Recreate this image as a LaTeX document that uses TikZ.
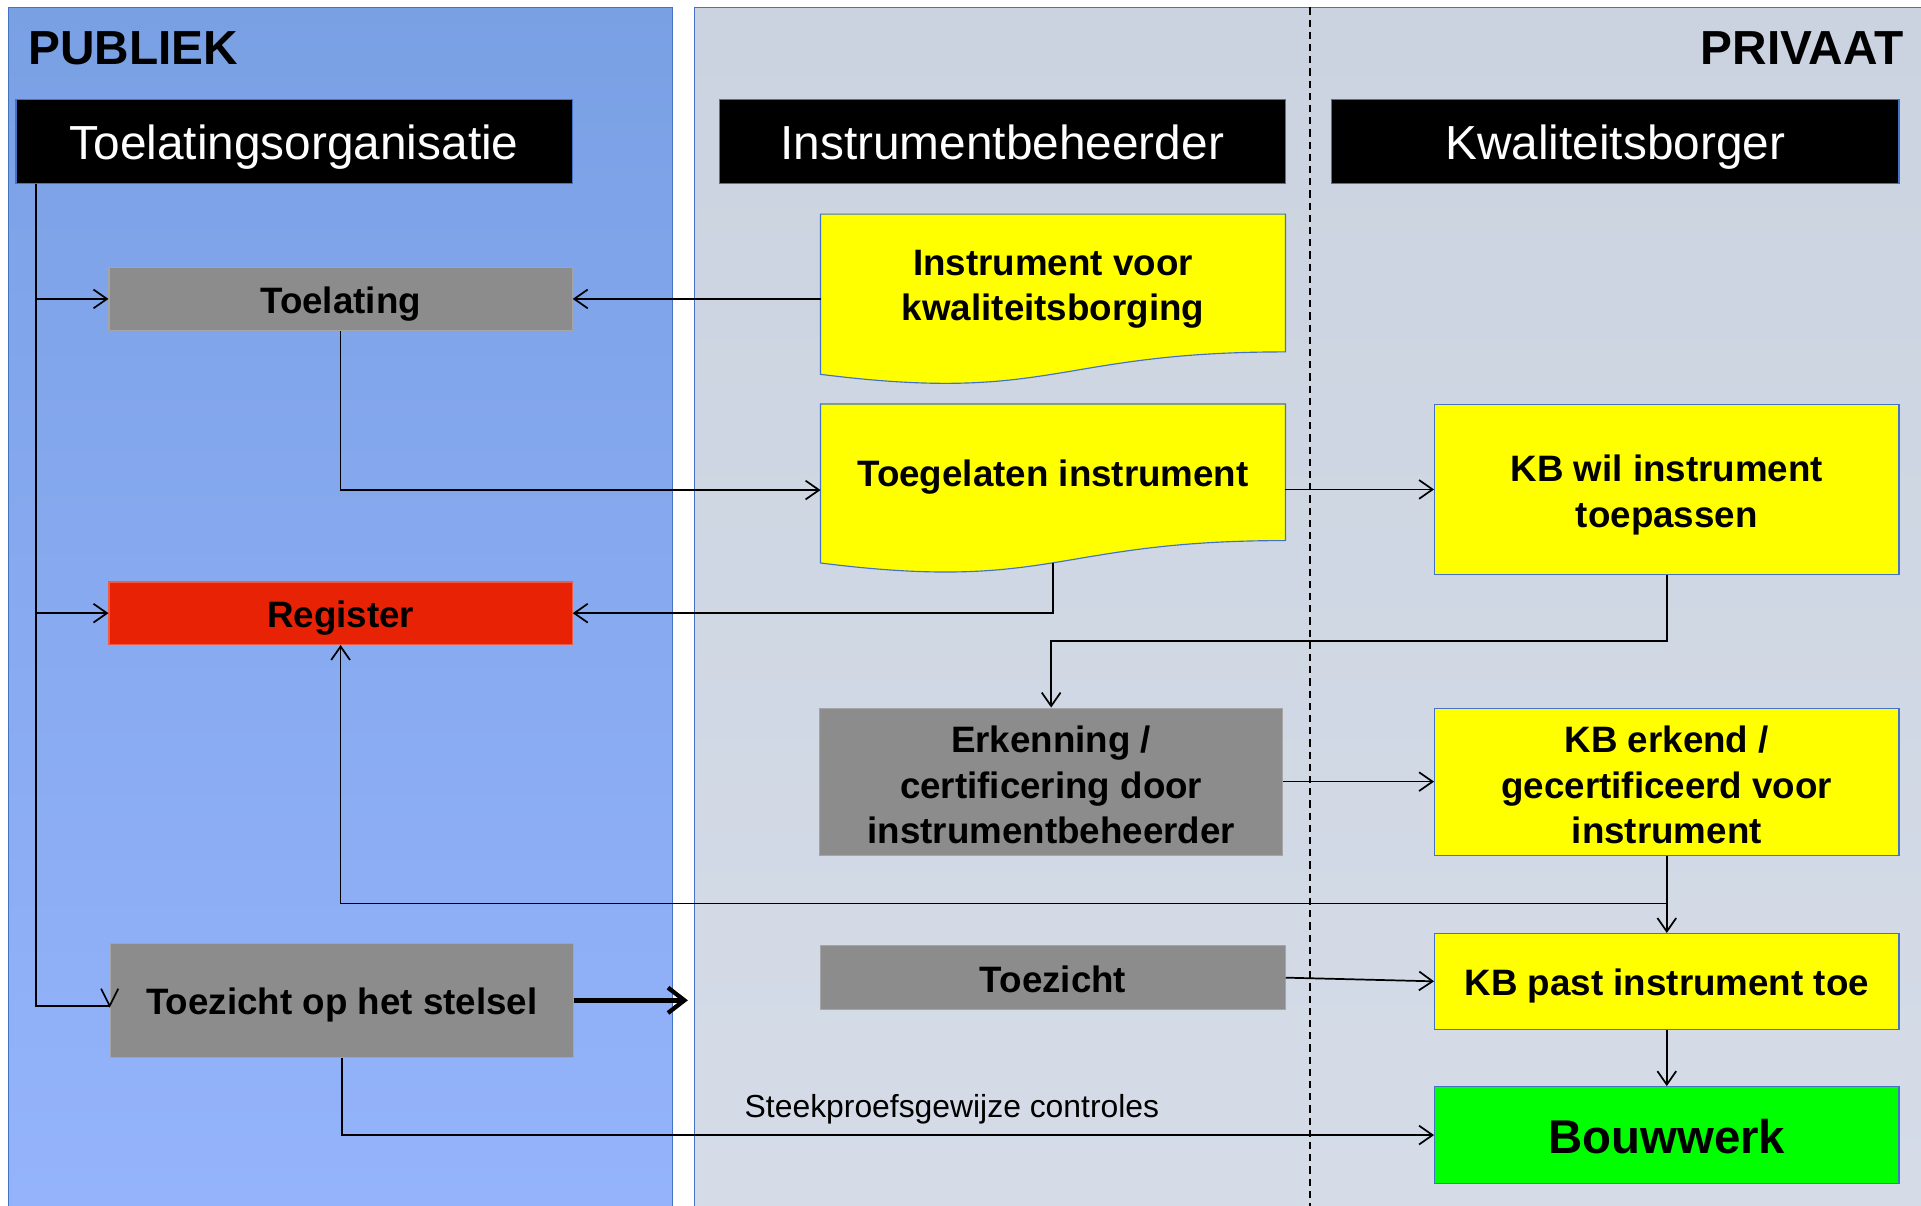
\documentclass[tikz,border=0pt]{standalone}
\usepackage{fontspec}
\setmainfont{Liberation Sans}
\usetikzlibrary{arrows.meta,calc}
\pgfdeclarelayer{panels}
\pgfdeclarelayer{docs}
\pgfsetlayers{panels,docs,main}
\definecolor{pubtop}{RGB}{122,160,228}
\definecolor{pubbot}{RGB}{148,179,251}
\definecolor{privtop}{RGB}{203,211,224}
\definecolor{privbot}{RGB}{213,220,232}
\definecolor{edgeblue}{RGB}{68,114,196}
\definecolor{boxgray}{RGB}{140,140,140}
\definecolor{grayedge}{RGB}{165,165,165}
\definecolor{regred}{RGB}{232,35,5}
\definecolor{kbyellow}{RGB}{255,255,0}
\definecolor{bgreen}{RGB}{0,255,0}
\newcommand\hdrf{\fontsize{33.3}{38}\selectfont}
\newcommand\bodyf{\fontsize{25.6}{31.6}\selectfont\bfseries}
\newcommand\bigf{\fontsize{33}{38}\selectfont\bfseries}
\newcommand\smallf{\fontsize{22.2}{26}\selectfont}
\newcommand\pstrut[1]{\rule[-0.212em]{0pt}{\dimexpr 1.117em+#1\relax}}
\newcommand\tallb{\pstrut{3.4pt}}
\newcommand\tallc{\pstrut{5.1pt}}
\newcommand\docshape[1]{%
  \begin{pgfonlayer}{docs}
  \filldraw[fill=kbyellow, draw=edgeblue, line width=0.8pt]
    (#1.north west) -- (#1.north east) -- (#1.south east)
    .. controls (#1.south) and ($(#1.south)+(0,42.3)$) ..
    ($(#1.south west)+(0,18.3)$) -- cycle;
  \end{pgfonlayer}}
\tikzset{
  sz/.style 2 args={minimum width=#1*0.03cm, minimum height=#2*0.03cm},
  base/.style={inner sep=0pt, align=center, font=\bodyf,
    execute at begin node={\pstrut{2.6pt}}, execute at end node={\pstrut{0pt}}},
  hdr/.style={base, fill=black, draw=edgeblue, line width=0.8pt, text=white, font=\hdrf,
    execute at begin node={\pstrut{0pt}}},
  gbox/.style={base, fill=boxgray, draw=grayedge, line width=0.8pt},
  ybox/.style={base, fill=kbyellow, draw=edgeblue, line width=0.8pt},
  docbox/.style={base},
  rbox/.style={base, fill=regred, draw=regred!75!white, line width=0.8pt},
  gnbox/.style={base, fill=bgreen, draw=edgeblue, line width=0.8pt, font=\bigf},
  conn/.style={line width=1.2pt},
  arr/.style={conn, -{Straight Barb[length=0.33cm,width=0.46cm,line width=1.2pt]}},
  thickarr/.style={line width=3.4pt, -{Straight Barb[length=0.4cm,width=0.62cm,line width=3pt]}},
  title/.style={inner sep=0pt, font=\fontsize{33.3}{38}\selectfont\bfseries},
}
\begin{document}
\begin{tikzpicture}[x=0.03cm,y=-0.03cm]
\useasboundingbox (0,0) rectangle (1568,984);
\begin{pgfonlayer}{panels}
\fill[white] (0,0) rectangle (1568,984);
\begin{scope}
\clip (0,0) rectangle (1568,984);
\shade[top color=pubtop, bottom color=pubbot] (7,6) rectangle (549,984);
\draw[edgeblue, line width=0.6pt] (7,990) -- (7,6) -- (549,6) -- (549,990);
\shade[top color=privtop, bottom color=privbot] (567,6) rectangle (1600,984);
\draw[edgeblue, line width=0.6pt] (567,990) -- (567,6) -- (1600,6);
\draw[line width=1.2pt, dash pattern=on 5pt off 3.5pt] (1069,6) -- (1069,990);
\end{scope}
\end{pgfonlayer}

% titles
\node[title, anchor=base west] (publiek) at (23,53) {PUBLIEK};
\node[title, anchor=base east] (privaat) at (1554,53) {PRIVAAT};

% headers
\node[hdr, sz={454}{69}] (hdr1) at (240,115.5) {Toelatingsorganisatie};
\node[hdr, sz={462}{69}] (hdr2) at (818,115.5) {Instrumentbeheerder};
\node[hdr, sz={463}{69}] (hdr3) at (1318.5,115.5) {Kwaliteitsborger};

% boxes
\node[gbox, sz={378}{52}] (toel) at (278,244) {Toelating};
\node[docbox, sz={379}{112}] (ivk) at (859.5,231) {\tallb Instrument voor\\kwaliteitsborging};
\docshape{ivk}
\node[docbox, sz={379}{111}] (ti) at (859.5,385.5) {Toegelaten instrument};
\docshape{ti}
\node[ybox, sz={379}{139}] (kbwil) at (1360.5,399.5) {\tallb KB wil instrument\\toepassen};
\node[rbox, sz={378}{51}] (reg) at (278,500.5) {Register};
\node[gbox, sz={378}{120}] (erk) at (858,638) {\tallc Erkenning /\\certificering door\\instrumentbeheerder};
\node[ybox, sz={379}{120}] (kberk) at (1360.5,638) {\tallc KB erkend /\\gecertificeerd voor\\instrument};
\node[gbox, sz={378}{93}] (tos) at (279,816.5) {Toezicht op het stelsel};
\node[gbox, sz={379}{52}] (tz) at (859.5,798) {Toezicht};
\node[ybox, sz={379}{78}] (kbpast) at (1360.5,801) {KB past instrument toe};
\node[gnbox, sz={379}{79}] (bouw) at (1360.5,926.5) {Bouwwerk};
\node[inner sep=0pt, font=\smallf, anchor=base] (steek) at (777,912) {Steekproefsgewijze controles};

% connectors
\coordinate (t0) at ($(hdr1.south west)+(17,0)$);
\coordinate (tosin) at ($(tos.west)+(0,4.5)$);
\draw[conn] (t0) |- (tosin);
\draw[conn] ($(tosin)+(-7,-14)$) -- (tosin) -- ($(tosin)+(7,-14)$);
\draw[arr] (t0 |- toel.west) -- (toel.west);
\draw[arr] (t0 |- reg.west) -- (reg.west);
\draw[arr] (ivk.west |- toel.east) -- (toel.east);
\draw[arr] (toel.south) |- ($(ti.west)+(0,14.5)$);
\draw[arr] ($(ti.east)+(0,14)$) -- (kbwil.west);
\draw[arr] ($(ti.south)+(0,18)$) |- (reg.east);
\draw[arr] (kbwil.south) -- ++(0,54) -| (erk.north);
\draw[arr] (erk.east) -- (kberk.west);
\draw[arr] (kberk.south) -- (kbpast.north);
\draw[arr] ($(kberk.south)+(0,39)$) -| (reg.south);
\draw[arr] (tz.east) -- (kbpast.west);
\draw[arr] (kbpast.south) -- (bouw.north);
\coordinate (thickend) at ($(tos.east)+(93,0)$);
\draw[thickarr] (tos.east) -- (thickend);
\draw[arr] (tos.south) |- (bouw.west);
\end{tikzpicture}
\end{document}
